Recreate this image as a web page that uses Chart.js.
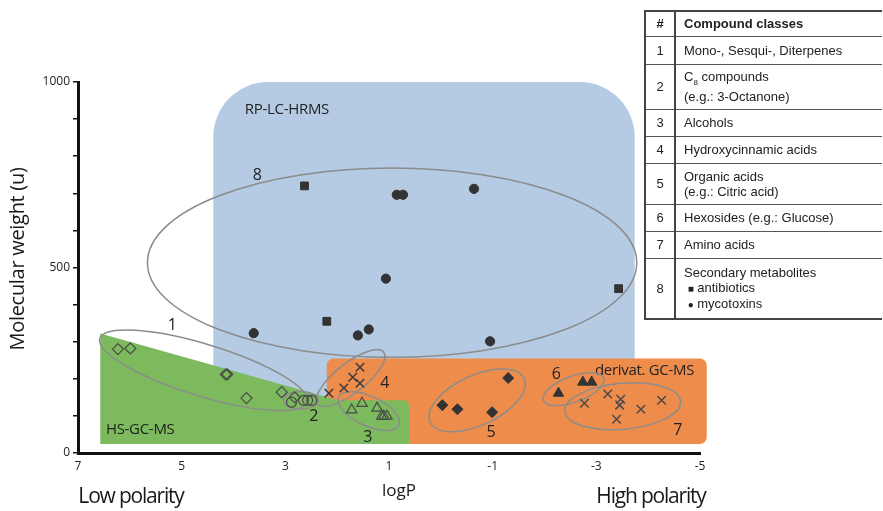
<!DOCTYPE html>
<html>
<head>
<meta charset="utf-8">
<script src="https://cdn.jsdelivr.net/npm/chart.js@4.4.1/dist/chart.umd.min.js"></script>
<style>
body { margin: 0; background: #fff; }
#wrap { position: relative; width: 883px; height: 511px; }
#classes { position: absolute; left: 644px; top: 10px; width: 238px; border-collapse: collapse;
  font-family: "Liberation Sans", Arial, sans-serif; font-size: 13px; color: #222; line-height: 15px; }
#classes td, #classes th { border-top: 1px solid #555; border-bottom: 1px solid #555; padding: 0 0 0 8px; text-align: left; }
#classes tr:first-child th { border-top: 2px solid #444; }
#classes tr:last-child td { border-bottom: 2px solid #444; }
#classes .n { width: 28px; padding: 0; text-align: center; border-left: 2px solid #444; border-right: 2px solid #444; }
</style>
</head>
<body>
<div id="wrap">
  <canvas id="myChart" width="883" height="511"></canvas>
  <table id="classes"></table>
</div>
<script>
// measured values: logP (x) and molecular weight (y)
const terpenesX = [6.23, 5.99, 4.15, 4.12, 3.75, 3.07, 2.82];
const terpenesY = [280, 282, 212, 212, 148, 164, 150];
const c8X = [2.88, 2.65, 2.57, 2.49];
const c8Y = [137, 142, 142, 142];
const alcoholsX = [1.72, 1.52, 1.23, 1.14, 1.10, 1.04];
const alcoholsY = [116, 134, 121, 99, 99, 99];
const cinnamicX = [2.16, 1.87, 1.70, 1.56, 1.56];
const cinnamicY = [161, 175, 204, 231, 188];
const organicX = [-0.03, -0.32, -0.99, -1.30];
const organicY = [129, 118, 110, 202];
const hexosidesX = [-2.27, -2.74, -2.91];
const hexosidesY = [161, 191, 191];
const aminoX = [-2.77, -3.22, -3.47, -3.45, -3.39, -3.86, -4.26];
const aminoY = [134, 159, 145, 129, 91, 118, 142];
const antibioticsX = [2.63, 2.20, -3.43];
const antibioticsY = [720, 355, 443];
const mycotoxinsX = [0.85, 0.73, -0.64, 1.06, 3.61, 1.60, 1.39, -0.95];
const mycotoxinsY = [696, 696, 712, 470, 323, 317, 333, 301];

const xTicks = [7, 5, 3, 1, -1, -3, -5];
const yTickLabels = [0, 500, 1000];

// method coverage (logP / MW ranges)
const lcRange = [4.39, -3.74, 24, 1000];
const gcDerivRange = [2.20, -5.13, 24, 255];
const hsOutline = [[6.57, 24], [6.57, 322], [1.99, 142], [0.61, 142], [0.61, 24]];

// class groupings: centre, half widths, tilt
const groupNames = ['1', '2', '3', '4', '5', '6', '7', '8'];
const groupCX = [4.58, 2.70, 1.39, 1.74, -0.70, -2.56, -3.51, 0.94];
const groupCY = [223, 142, 113, 202, 142, 172, 126, 513];
const groupRX = [2.09, 0.33, 0.64, 0.81, 1.0, 0.62, 1.12, 4.72];
const groupRY = [70, 24, 40, 40, 67, 35, 62, 255];
const groupTilt = [17, 0, 25, -38, -25, -20, -5, 0];
const groupLabelX = [5.18, 2.45, 1.41, 1.08, -0.97, -2.23, -4.57, 3.54];
const groupLabelY = [344, 99, 43, 188, 56, 212, 62, 747];

const classNames = [
  ['Mono-, Sesqui-, Diterpenes'],
  ['C<sub style="font-size:8px">8</sub> compounds', '(e.g.: 3-Octanone)'],
  ['Alcohols'],
  ['Hydroxycinnamic acids'],
  ['Organic acids', '(e.g.: Citric acid)'],
  ['Hexosides (e.g.: Glucose)'],
  ['Amino acids'],
  ['Secondary metabolites', '&nbsp;<span style="font-size:10px">&#9632;</span> antibiotics', '&nbsp;<span style="font-size:10px">&#9679;</span> mycotoxins']
];
const rowHeights = [25, 28, 45, 27, 27, 41, 27, 27, 61];

const pts = (xs, ys) => xs.map((x, i) => ({x: x, y: ys[i]}));

// table
var tbl = document.getElementById('classes');
var html = '<tr style="height:' + rowHeights[0] + 'px"><th class="n">#</th><th>Compound classes</th></tr>';
classNames.forEach(function (lines, i) {
  html += '<tr style="height:' + rowHeights[i + 1] + 'px"><td class="n">' + (i + 1) + '</td><td>' + lines.join('<br>') + '</td></tr>';
});
tbl.innerHTML = html;

const backdrop = {
  id: 'backdrop',
  beforeDraw(chart) {
    const ctx = chart.ctx, xs = chart.scales.x, ys = chart.scales.y;
    const X = v => xs.getPixelForValue(v), Y = v => ys.getPixelForValue(v);
    ctx.save();
    ctx.fillStyle = '#b4cbe3';
    ctx.beginPath();
    ctx.roundRect(X(lcRange[0]), Y(lcRange[3]), X(lcRange[1]) - X(lcRange[0]), Y(lcRange[2]) - Y(lcRange[3]), [55, 55, 0, 0]);
    ctx.fill();
    ctx.fillStyle = '#ee8d4b';
    ctx.beginPath();
    ctx.roundRect(X(gcDerivRange[0]), Y(gcDerivRange[3]), X(gcDerivRange[1]) - X(gcDerivRange[0]), Y(gcDerivRange[2]) - Y(gcDerivRange[3]), 7);
    ctx.fill();
    ctx.fillStyle = '#7cba5d';
    ctx.beginPath();
    ctx.moveTo(X(hsOutline[0][0]), Y(hsOutline[0][1]));
    ctx.lineTo(X(hsOutline[1][0]), Y(hsOutline[1][1]));
    ctx.lineTo(X(hsOutline[2][0]), Y(hsOutline[2][1]));
    ctx.arcTo(X(hsOutline[3][0]), Y(hsOutline[3][1]), X(hsOutline[4][0]), Y(hsOutline[4][1]), 6);
    ctx.lineTo(X(hsOutline[4][0]), Y(hsOutline[4][1]));
    ctx.closePath();
    ctx.fill();

    ctx.fillStyle = '#222';
    ctx.font = '15px "Open Sans"';
    ctx.textAlign = 'center';
    ctx.textBaseline = 'middle';
    ctx.letterSpacing = '-0.3px';
    ctx.fillText('RP-LC-HRMS', X(2.97), Y(925));
    ctx.fillText('HS-GC-MS', X(5.80), Y(62));
    ctx.fillText('derivat. GC-MS', X(-3.93), Y(223));
    ctx.restore();
  },
  beforeDatasetsDraw(chart) {
    const ctx = chart.ctx, xs = chart.scales.x, ys = chart.scales.y;
    const X = v => xs.getPixelForValue(v), Y = v => ys.getPixelForValue(v);
    ctx.save();
    ctx.strokeStyle = '#8c8c8c';
    ctx.lineWidth = 1.5;
    groupNames.forEach((name, i) => {
      const cx = X(groupCX[i]), cy = Y(groupCY[i]);
      const rx = Math.abs(X(groupCX[i] + groupRX[i]) - cx);
      const ry = Math.abs(Y(groupCY[i] + groupRY[i]) - cy);
      ctx.beginPath();
      ctx.ellipse(cx, cy, rx, ry, groupTilt[i] * Math.PI / 180, 0, Math.PI * 2);
      ctx.stroke();
    });
    ctx.fillStyle = '#222';
    ctx.font = '16px "Open Sans"';
    ctx.textAlign = 'center';
    ctx.textBaseline = 'middle';
    groupNames.forEach((name, i) => ctx.fillText(name, X(groupLabelX[i]), Y(groupLabelY[i])));
    ctx.restore();
  },
  afterDraw(chart) {
    const ctx = chart.ctx;
    ctx.save();
    ctx.fillStyle = '#1a1a1a';
    ctx.textAlign = 'center';
    ctx.textBaseline = 'middle';
    ctx.font = '17px "Open Sans"';
    ctx.fillText('logP', 399, 491);
    ctx.font = '21px "Open Sans"';
    ctx.letterSpacing = '-1.2px';
    ctx.fillText('Low polarity', 131, 497);
    ctx.fillText('High polarity', 651, 497);
    ctx.letterSpacing = '-0.3px';
    ctx.translate(18, 259);
    ctx.rotate(-Math.PI / 2);
    ctx.font = '20px "Open Sans"';
    ctx.fillText('Molecular weight (u)', 0, 0);
    ctx.restore();
  }
};

const open = {backgroundColor: 'rgba(0,0,0,0)', borderColor: '#4a4a4a', pointBorderWidth: 1.2};
const filled = {backgroundColor: '#333', borderColor: '#333', pointBorderWidth: 1};

var graphData = {
  type: 'scatter',
  data: {
    datasets: [
      Object.assign({label: 'Mono-, Sesqui-, Diterpenes', data: pts(terpenesX, terpenesY), pointStyle: 'rectRot', pointRadius: 5.5}, open),
      Object.assign({label: 'C8 compounds', data: pts(c8X, c8Y), pointStyle: 'circle', pointRadius: 5}, open),
      Object.assign({label: 'Alcohols', data: pts(alcoholsX, alcoholsY), pointStyle: 'triangle', pointRadius: 6}, open),
      {label: 'Hydroxycinnamic acids', data: pts(cinnamicX, cinnamicY), pointStyle: 'crossRot', pointRadius: 6, borderColor: '#3a3a3a', pointBorderWidth: 1.5},
      Object.assign({label: 'Organic acids', data: pts(organicX, organicY), pointStyle: 'rectRot', pointRadius: 5.5}, filled),
      Object.assign({label: 'Hexosides', data: pts(hexosidesX, hexosidesY), pointStyle: 'triangle', pointRadius: 6}, filled),
      {label: 'Amino acids', data: pts(aminoX, aminoY), pointStyle: 'crossRot', pointRadius: 6, borderColor: '#4a4a4a', pointBorderWidth: 1.5},
      Object.assign({label: 'antibiotics', data: pts(antibioticsX, antibioticsY), pointStyle: 'rect', pointRadius: 5.5}, filled),
      Object.assign({label: 'mycotoxins', data: pts(mycotoxinsX, mycotoxinsY), pointStyle: 'circle', pointRadius: 4.6}, filled)
    ]
  },
  options: {
    responsive: false,
    animation: false,
    devicePixelRatio: 1,
    layout: {padding: {left: 0, top: 82, right: 183, bottom: 0}},
    plugins: {legend: {display: false}, tooltip: {enabled: false}},
    scales: {
      x: {
        type: 'linear', min: -5, max: 7, reverse: true,
        afterFit: s => { s.height = 58; },
        afterBuildTicks: s => { s.ticks = xTicks.map(v => ({value: v})); },
        ticks: {color: '#222', font: {family: 'Open Sans', size: 12}, padding: 1},
        grid: {drawOnChartArea: false, color: 'rgba(0,0,0,0)', tickLength: 5},
        border: {display: true, color: '#111', width: 3}
      },
      y: {
        min: 0, max: 1000,
        afterFit: s => { s.width = 78; },
        ticks: {stepSize: 100, color: '#222', font: {family: 'Open Sans', size: 12}, padding: 3,
          callback: v => yTickLabels.includes(v) ? v : ''},
        grid: {drawOnChartArea: false, color: '#111', lineWidth: 1.5, tickLength: 5},
        border: {display: true, color: '#111', width: 3}
      }
    }
  },
  plugins: [backdrop]
};

var myChart = new Chart(document.getElementById('myChart'), graphData);
</script>
</body>
</html>
